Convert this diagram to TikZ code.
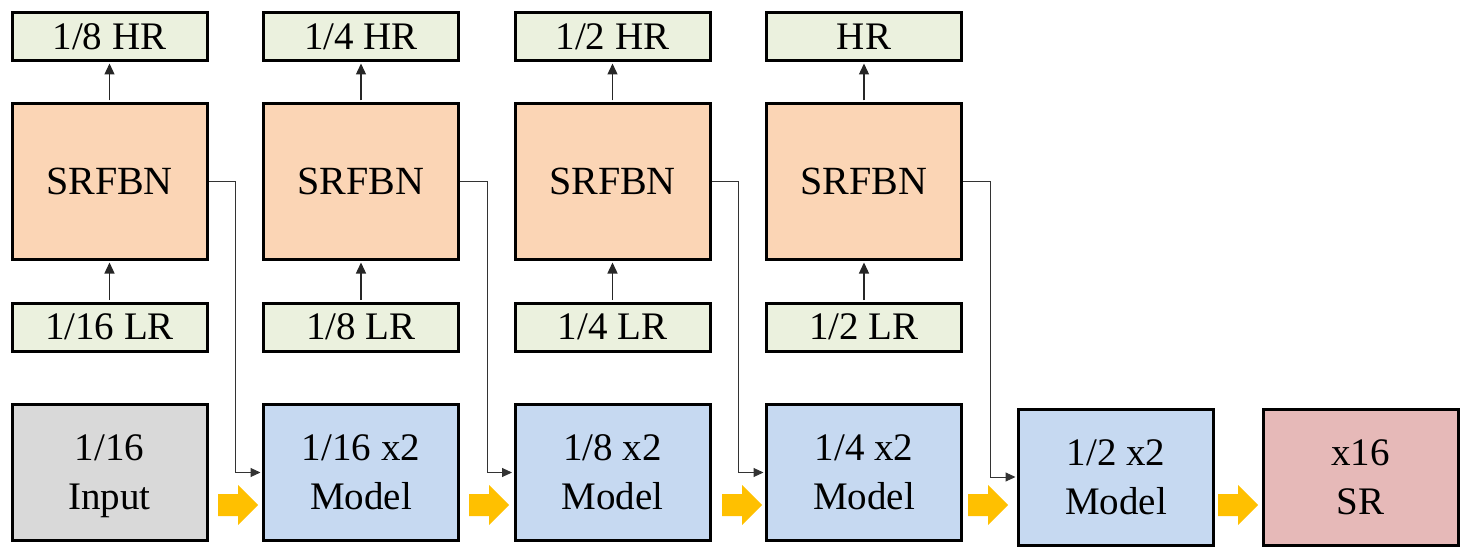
\documentclass[tikz,border=0pt]{standalone}
\usepackage{fontspec}
\setmainfont{Liberation Serif}
\usetikzlibrary{arrows.meta}
\definecolor{hrgreen}{HTML}{EBF1DE}
\definecolor{peach}{HTML}{FBD5B5}
\definecolor{inputgray}{HTML}{D9D9D9}
\definecolor{modelblue}{HTML}{C6D9F1}
\definecolor{srpink}{HTML}{E6B9B8}
\definecolor{arrowyellow}{HTML}{FFC000}
\begin{document}
\begin{tikzpicture}[x=1pt,y=-1pt,
  box/.style={draw=black, line width=3pt, inner sep=0pt, minimum width=195pt,
              align=center, font=\fontsize{39}{49}\selectfont},
  smallbox/.style={box, fill=hrgreen, minimum height=48pt},
  fbnbox/.style={box, fill=peach, minimum height=156pt, font=\fontsize{40}{48}\selectfont},
  modelbox/.style={box, fill=modelblue, minimum height=136pt},
  conn/.style={line width=1.3pt, draw=black!85, shorten >=1.5pt, shorten <=1.5pt,
               -{Triangle[length=11pt,width=10pt]}},
  fb/.style={line width=1pt, draw=black!80, shorten >=1.5pt,
             -{Triangle[length=10pt,width=9pt]}},
  yarr/.pic={\fill[arrowyellow] (0,-11) -- (20,-11) -- (20,-20) -- (40,0) -- (20,20) -- (20,11) -- (0,11) -- cycle;}
]
\useasboundingbox (0,0) rectangle (1470,556);

% top row
\node[smallbox] (hr1) at (109.5,36.5) {1/8 HR};
\node[smallbox] (hr2) at (361,36.5) {1/4 HR};
\node[smallbox] (hr3) at (612.5,36.5) {1/2 HR};
\node[smallbox] (hr4) at (864,36.5) {HR};

% SRFBN row
\node[fbnbox] (sr1) at (109.5,181.5) {SRFBN};
\node[fbnbox] (sr2) at (361,181.5) {SRFBN};
\node[fbnbox] (sr3) at (612.5,181.5) {SRFBN};
\node[fbnbox] (sr4) at (864,181.5) {SRFBN};

% LR row
\node[smallbox] (lr1) at (109.5,327) {1/16 LR};
\node[smallbox] (lr2) at (361,327) {1/8 LR};
\node[smallbox] (lr3) at (612.5,327) {1/4 LR};
\node[smallbox] (lr4) at (864,327) {1/2 LR};

% bottom row
\node[box, fill=inputgray, minimum height=136pt] (in) at (109.5,472.5) {1/16\\In\smash{p}ut};
\node[modelbox] (m1) at (361,472.5) {1/16 x2\\Model};
\node[modelbox] (m2) at (612.5,472.5) {1/8 x2\\Model};
\node[modelbox] (m3) at (864,472.5) {1/4 x2\\Model};
\node[modelbox] (m4) at (1116,477) {1/2 x2\\Model};
\node[box, fill=srpink, minimum height=136pt] (out) at (1360.5,477) {x16\\SR};

% vertical connectors
\foreach \i in {1,2,3,4}{
  \draw[conn] (lr\i) -- (sr\i);
  \draw[conn] (sr\i) -- (hr\i);
}

% feedback connectors
\draw[fb] (sr1.east) -- ++(27,0) |- (m1.west);
\draw[fb] (sr2.east) -- ++(27,0) |- (m2.west);
\draw[fb] (sr3.east) -- ++(27,0) |- (m3.west);
\draw[fb] (sr4.east) -- ++(27,0) |- (m4.west);

% yellow block arrows
\pic at (218,505) {yarr};
\pic at (469,505) {yarr};
\pic at (722,505) {yarr};
\pic at (968,505) {yarr};
\pic at (1218,505) {yarr};
\end{tikzpicture}
\end{document}
